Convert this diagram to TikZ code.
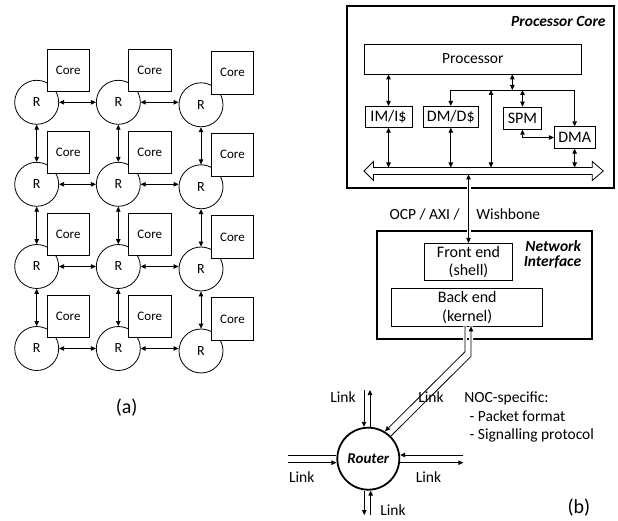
\documentclass[tikz,border=0pt]{standalone}
\usepackage{fontspec}
\setmainfont{Carlito}
\usetikzlibrary{arrows.meta}
\begin{document}
\begin{tikzpicture}[x=1pt,y=-1pt,
  >={Triangle[length=5pt,width=4.5pt]},
  line width=0.8pt,
  rnode/.style={circle,draw,fill=white,minimum size=44pt,inner sep=0pt,font=\fontsize{14}{16}\selectfont},
  corebox/.style={draw,fill=white,minimum width=42.6pt,minimum height=42.4pt,inner sep=0pt,font=\fontsize{13}{15}\selectfont},
  blk/.style={draw,fill=white,inner sep=0pt,align=center,font=\fontsize{16}{18.5}\selectfont},
  thickframe/.style={draw,line width=1.8pt,inner sep=0pt},
  lbl/.style={inner sep=0pt,font=\fontsize{15.5}{18}\selectfont},
  ttl/.style={inner sep=0pt,font=\fontsize{15.5}{15}\selectfont\bfseries\itshape,align=right},
  subcap/.style={inner sep=0pt,font=\fontsize{20}{24}\selectfont},
  gapline/.style={preaction={draw=white,line width=4pt,-}},
]
\useasboundingbox (0,0) rectangle (618,521);

% ---------------- (a) mesh ----------------
\foreach \c/\x/\dy in {1/36.7/0, 2/118.3/0, 3/201/2.5}{
  \foreach \r/\y in {1/102.3, 2/184.3, 3/266.5, 4/348.5}{
    \node[rnode] (r\r\c) at (\x,\y+\dy) {R};
    \node[corebox] (c\r\c) at (\x+31.5,\y+\dy-32) {Core};
  }
}
\foreach \r in {1,2,3,4}{
  \draw[<->] (r\r1.east) -- (r\r2.west);
  \draw[<->] (r\r2.east) -- (r\r2.east -| r\r3.west);
}
\foreach \c in {1,2,3}{
  \foreach \r/\s in {1/2,2/3,3/4}{
    \draw[<->] (r\r\c.south) -- (r\s\c.north);
  }
}
\node[subcap] (capa) at (126.7,408) {(a)};

% ---------------- (b) ----------------
\node[thickframe,minimum width=266.7pt,minimum height=182pt] (pcore) at (480.65,97) {};
\node[ttl,anchor=east] (pcl) at (606,21) {Processor Core};
\node[thickframe,minimum width=215pt,minimum height=108.3pt] (ni) at (484.2,284.85) {};

\coordinate (bustop) at (480,167.5);
\coordinate (busbot) at (480,174.5);

\node[blk,minimum width=217.7pt,minimum height=30pt,font=\fontsize{15.5}{18}\selectfont] (proc) at (472.85,59) {Processor};
\node[blk,minimum width=47pt,minimum height=21pt] (im) at (388.5,116.8) {IM/I\$};
\node[blk,minimum width=55pt,minimum height=21pt] (dm) at (450.8,116.8) {DM/D\$};
\node[blk,minimum width=38.4pt,minimum height=22.3pt] (spm) at (522.5,118.2) {SPM};
\node[blk,minimum width=40.7pt,minimum height=21.6pt] (dma) at (574.65,137.5) {DMA};

\node[blk,minimum width=88.4pt,minimum height=37.4pt] (fe) at (468.5,262) {Front end\\(shell)};
\node[blk,minimum width=151pt,minimum height=37.3pt] (be) at (467.2,307.35) {Back end\\(kernel)};
\node[ttl,anchor=east] (nil) at (581.5,254.5) {Network\\Interface};

% connector processor core -> network interface
\draw[gapline,<->] (fe.north |- busbot) -- (fe.north);

% links back end <-> router
\coordinate (dl) at (385,431.3);
\coordinate (dr) at (390.8,436.2);
\draw[gapline,->] ([xshift=-2.2pt]be.south) -- ++(0,25.3) -- (dl);
\draw[gapline,<-] ([xshift=3.8pt]be.south) -- ++(0,30) -- (dr);

% bus
\draw[fill=white] (364,171) -- (373.5,161.5) -- (373.5,167.5) -- (592.3,167.5) -- (592.3,161.5)
  -- (603.3,171) -- (592.3,180.5) -- (592.3,174.5) -- (373.5,174.5) -- (373.5,180.5) -- cycle;

% internal connections
\coordinate (jp) at (512.3,90);
\coordinate (jb) at (491,90);
\draw[<->] (im.north |- proc.south) -- (im.north);
\draw[<->] (im.south) -- (im.south |- bustop);
\draw[<->] (dm.south) -- (dm.south |- bustop);
\draw[<->] (jp |- proc.south) -- (jp);
\draw[<->] (dm.north) -- (dm.north |- jp) -- (dma.north |- jp) -- (dma.north);
\draw[<->] (jb) -- (jb |- bustop);
\draw[<->] (spm.north) -- (spm.north |- jp);
\draw[<->] (spm.south) -- (spm.south |- dma.west) -- (dma.west);
\draw[<->] (dma.south) -- (dma.south |- bustop);

\node[lbl,anchor=base east] (ocp) at (460,220) {OCP / AXI /};
\node[lbl,anchor=base west] (wb) at (476,220) {Wishbone};

% router
\node[circle,draw,line width=1.8pt,fill=white,minimum size=62pt,inner sep=0pt,
  font=\fontsize{15}{18}\selectfont\bfseries\itshape] (router) at (368.3,458.7) {Router};

\coordinate (tl) at (364,390);
\coordinate (tr) at (370,390);
\draw[->] (tl) -- (tl |- router.north);
\draw[<-] (tr) -- (tr |- router.north);
\coordinate (lu) at (288,455);
\coordinate (ld) at (288,462.7);
\draw (lu) -- (lu -| router.west);
\draw[->] (ld) -- (ld -| router.west);
\coordinate (ru) at (463.3,455);
\coordinate (rd) at (463.3,462.7);
\draw[->] (ru) -- (ru -| router.east);
\draw[<-] (rd) -- (rd -| router.east);
\coordinate (bl) at (364.3,515);
\coordinate (br) at (370.7,515);
\draw[->] (bl |- router.south) -- (bl);
\draw[->] (br) -- (br |- router.south);

\node[lbl] (lk1) at (343,397) {Link};
\node[lbl] (lk2) at (431,397) {Link};
\node[lbl] (lk3) at (301.8,476.7) {Link};
\node[lbl] (lk4) at (428.5,476.7) {Link};
\node[lbl] (lk5) at (393,510) {Link};

\node[lbl,anchor=base west] (noc1) at (464,402.7) {NOC-specific:};
\node[lbl,anchor=base west] (noc2) at (469.3,421) {- Packet format};
\node[lbl,anchor=base west] (noc3) at (469.3,439.3) {- Signalling protocol};

\node[subcap] (capb) at (579,508) {(b)};
\end{tikzpicture}
\end{document}
